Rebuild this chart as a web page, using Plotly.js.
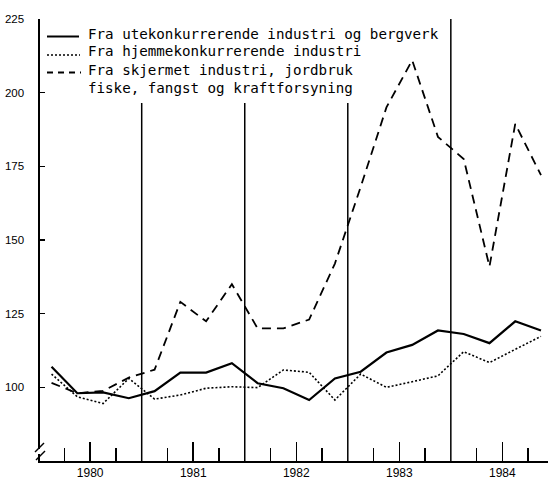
<!DOCTYPE html>
<html>
<head>
<meta charset="utf-8">
<script src="https://cdn.plot.ly/plotly-3.0.1.min.js"></script>
<style>html,body{margin:0;padding:0;background:#fff;}#chart{width:548px;height:486px;}</style>
</head>
<body>
<div id="chart"></div>
<script>
// Quarterly periods (mid-quarter, decimal years)
const periods = [
  1980.125, 1980.375, 1980.625, 1980.875,
  1981.125, 1981.375, 1981.625, 1981.875,
  1982.125, 1982.375, 1982.625, 1982.875,
  1983.125, 1983.375, 1983.625, 1983.875,
  1984.125, 1984.375, 1984.625, 1984.875
];
// Fra utekonkurrerende industri og bergverk
const ute = [107, 98, 98.3, 96.3, 98.7, 105, 105, 108.2, 101.4, 99.7, 95.7, 103, 105.3, 111.8, 114.4, 119.3, 118.1, 115, 122.4, 119.3];
// Fra hjemmekonkurrerende industri
const hjemme = [104.5, 96.8, 94.5, 103, 96, 97.4, 99.7, 100.2, 99.9, 105.9, 105.1, 95.7, 104.5, 100, 101.9, 103.9, 112.1, 108.4, 112.9, 117.3];
// Fra skjermet industri, jordbruk, fiske, fangst og kraftforsyning
const skjermet = [101.5, 98, 98.8, 103.3, 106, 129, 122.4, 135, 120, 120, 123, 142, 168, 195, 211, 185, 177.5, 141, 189.4, 172];

const yearLabels = ["1980", "1981", "1982", "1983", "1984"];
const yearLabelPos = [1980.5, 1981.5, 1982.5, 1983.5, 1984.5];
const quarterTicks = [1980.25, 1980.75, 1981.25, 1981.75, 1982.25, 1982.75, 1983.25, 1983.75, 1984.25, 1984.75];
const yearBounds = [1981, 1982, 1983, 1984];
const yTicks = [100, 125, 150, 175, 200, 225];
const legendNames = [
  "Fra utekonkurrerende industri og bergverk",
  "Fra hjemmekonkurrerende industri",
  "Fra skjermet industri, jordbruk",
  "fiske, fangst og kraftforsyning"
];

const W = 548, H = 486, ML = 40, MR = 0, MT = 19, MB = 25;
const PW = W - ML - MR, PH = H - MT - MB;
const px = x => (x - ML) / PW;          // pixel -> paper x
const py = y => (H - MB - y) / PH;      // pixel -> paper y

const traces = [
  {x: periods, y: ute, mode: 'lines', line: {color: '#000', width: 2.2}, name: legendNames[0]},
  {x: periods, y: hjemme, mode: 'lines', line: {color: '#000', width: 1.6, dash: '2px,2px'}, name: legendNames[1]},
  {x: periods, y: skjermet, mode: 'lines', line: {color: '#000', width: 1.8, dash: '9px,6px'}, name: legendNames[2]}
];

const shapes = [];
yearBounds.forEach((yr, i) => {
  shapes.push({type: 'line', xref: 'x', yref: 'y', x0: yr, x1: yr, y0: 75,
    y1: i === yearBounds.length - 1 ? 225 : 196.5, line: {color: '#000', width: 1.5}});
});
// legend samples
shapes.push({type: 'line', xref: 'paper', yref: 'paper', x0: px(47), x1: px(79), y0: py(36.5), y1: py(36.5), line: {color: '#000', width: 2}});
shapes.push({type: 'line', xref: 'paper', yref: 'paper', x0: px(47), x1: px(80), y0: py(55), y1: py(55), line: {color: '#000', width: 1.5, dash: '2px,2px'}});
shapes.push({type: 'line', xref: 'paper', yref: 'paper', x0: px(47), x1: px(81), y0: py(72.5), y1: py(72.5), line: {color: '#000', width: 1.8, dash: '6px,5px'}});
// axis break marks
shapes.push({type: 'rect', xref: 'paper', yref: 'paper', x0: px(38), x1: px(43), y0: py(454), y1: py(449), fillcolor: '#fff', line: {width: 0}, layer: 'above'});
shapes.push({type: 'line', xref: 'paper', yref: 'paper', x0: px(35), x1: px(44), y0: py(452), y1: py(443), line: {color: '#000', width: 1.5}, layer: 'above'});
shapes.push({type: 'line', xref: 'paper', yref: 'paper', x0: px(36), x1: px(45), y0: py(460), y1: py(451), line: {color: '#000', width: 1.5}, layer: 'above'});

const rowY = [34, 51.5, 69.5, 87.5];
const annotations = legendNames.map((t, i) => ({
  text: t, xref: 'paper', yref: 'paper', x: px(86), y: py(rowY[i]),
  xanchor: 'left', yanchor: 'middle', showarrow: false,
  font: {family: 'DejaVu Sans Mono', size: 14.2, color: '#000'}
}));

const layout = {
  width: W, height: H,
  margin: {l: ML, r: MR, t: MT, b: MB, pad: 0},
  paper_bgcolor: '#fff', plot_bgcolor: '#fff',
  showlegend: false,
  xaxis: {
    range: [1980.013, 1984.943], showgrid: false, zeroline: false,
    showline: true, linecolor: '#000', linewidth: 2,
    tickmode: 'array', tickvals: yearLabelPos, ticktext: yearLabels,
    ticks: 'inside', ticklen: 19, tickwidth: 1.5, tickcolor: '#000',
    tickfont: {family: 'Liberation Sans', size: 12, color: '#000'},
    minor: {tickmode: 'array', tickvals: quarterTicks, ticks: 'inside', ticklen: 13, tickwidth: 1.5, tickcolor: '#000', showgrid: false}
  },
  yaxis: {
    range: [75, 225], showgrid: false, zeroline: false,
    showline: true, linecolor: '#000', linewidth: 1.6,
    tickmode: 'array', tickvals: yTicks,
    ticks: 'inside', ticklen: 5, tickwidth: 1.5, tickcolor: '#000',
    ticklabelstandoff: 12,
    tickfont: {family: 'Liberation Sans', size: 11.5, color: '#000'}
  },
  shapes: shapes,
  annotations: annotations
};

Plotly.newPlot('chart', traces, layout, {staticPlot: true, displayModeBar: false});
</script>
</body>
</html>
